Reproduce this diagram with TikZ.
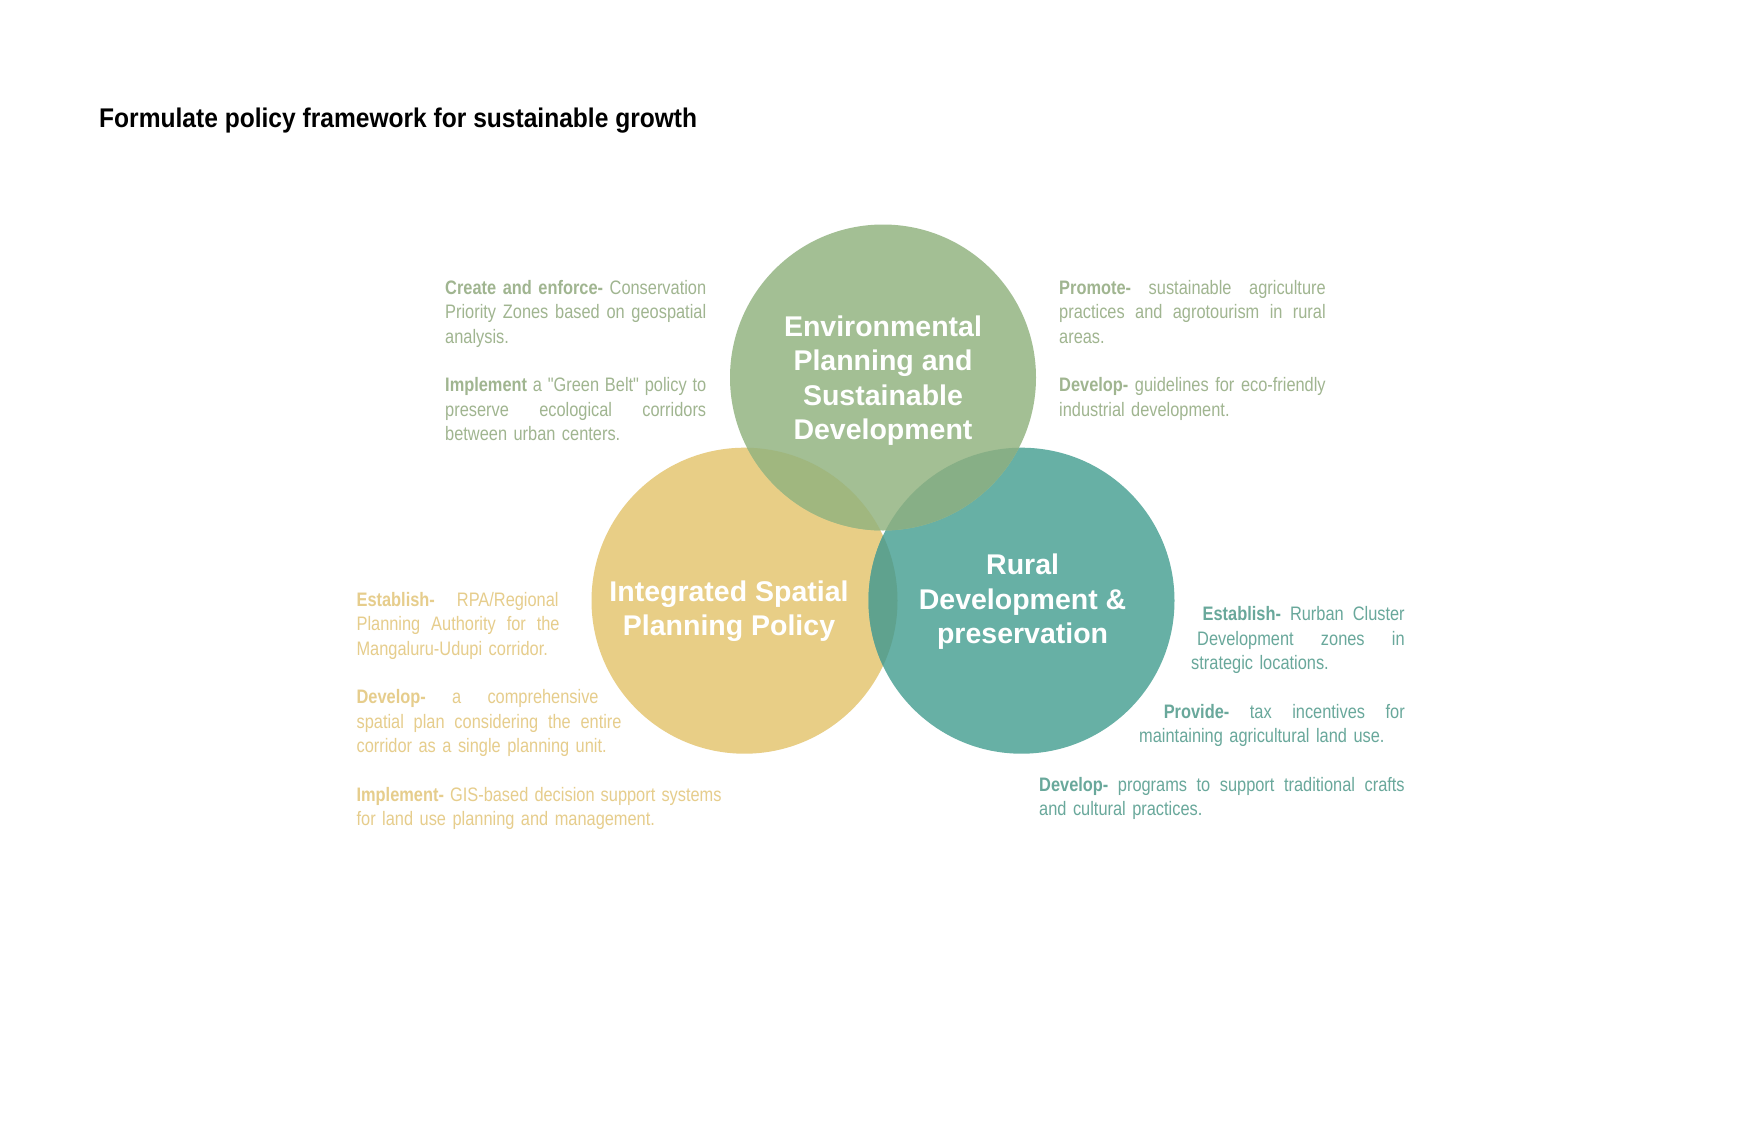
\documentclass[tikz,border=0pt]{standalone}
\usepackage{fontspec}
\setmainfont{Liberation Sans}
\newfontfamily\titlefont[FakeStretch=0.91]{Liberation Sans}
\newfontfamily\bodyfont[FakeStretch=0.84]{Liberation Sans}
\definecolor{cgreen}{HTML}{A3BF94}
\definecolor{cyel}{HTML}{E8CE86}
\definecolor{cteal}{HTML}{67B0A5}
\definecolor{cGY}{HTML}{A0B77F}
\definecolor{cGT}{HTML}{87AF86}
\definecolor{cYT}{HTML}{5FA28E}
\definecolor{tgreen}{HTML}{A0B590}
\definecolor{tyel}{HTML}{E6CD8C}
\definecolor{tteal}{HTML}{69A89B}
\newcommand{\J}[2]{\makebox[#1][s]{\spaceskip=\fontdimen2\font plus 1fil\relax #2}}
\begin{document}
\begin{tikzpicture}[x=1pt,y=-1pt,
  circlabel/.style={align=center,text=white,inner sep=0pt,
    font=\bfseries\fontsize{28.5}{34.5}\selectfont},
  bodytext/.style={anchor=base west,inner sep=0pt,
    font=\bodyfont\fontsize{19.5}{24.4}\selectfont}]
\useasboundingbox[fill=white] (0,0) rectangle (1741,1125);
\node[anchor=base west,inner sep=0pt,font=\titlefont\bfseries\fontsize{27}{32}\selectfont] (title) at (99,127) {Formulate policy framework for sustainable growth};
\coordinate (G) at (883,377.5);
\coordinate (Y) at (744.5,600.7);
\coordinate (T) at (1021.5,600.7);
\fill[cyel] (Y) circle[radius=153pt];
\fill[cteal] (T) circle[radius=153pt];
\fill[cgreen] (G) circle[radius=153pt];
\begin{scope}
  \clip (G) circle[radius=153pt];
  \fill[cGY] (Y) circle[radius=153pt];
  \fill[cGT] (T) circle[radius=153pt];
\end{scope}
\begin{scope}
  \clip (Y) circle[radius=153pt];
  \fill[cYT] (T) circle[radius=153pt];
\end{scope}
\node[circlabel] (lg) at (883,380.5) {Environmental\\Planning and\\Sustainable\\Development};
\node[circlabel] (ly) at (729,611) {Integrated Spatial\\Planning Policy};
\node[circlabel] (lt) at (1022.6,602) {Rural\\Development \&\\preservation};
\node[bodytext,text=tgreen,text width=262pt] (pa) at (445,294.3) {%
\J{261pt}{\textbf{Create and enforce-} Conservation}\\
\J{261pt}{Priority Zones based on geospatial}\\
analysis.\\[24.4pt]
\J{261pt}{\textbf{Implement} a "Green Belt" policy to}\\
\J{261pt}{preserve ecological corridors}\\
between urban centers.};
\node[bodytext,text=tgreen,text width=268pt] (pb) at (1059,294.3) {%
\J{266.5pt}{\textbf{Promote-} sustainable agriculture}\\
\J{266.5pt}{practices and agrotourism in rural}\\
areas.\\[24.4pt]
\J{266.5pt}{\textbf{Develop-} guidelines for eco-friendly}\\
industrial development.};
\node[bodytext,text=tyel,text width=367pt] (pc) at (356.4,606.3) {%
\J{202pt}{\textbf{Establish-} RPA/Regional}\\
\J{203pt}{Planning Authority for the}\\
Mangaluru-Udupi corridor.\\[24.4pt]
\J{242pt}{\textbf{Develop-} a comprehensive}\\
\J{265pt}{spatial plan considering the entire}\\
corridor as a single planning unit.\\[24.4pt]
\J{365pt}{\textbf{Implement-} GIS-based decision support systems}\\
for land use planning and management.};
\node[bodytext,text=tteal,text width=368pt] (pd) at (1039,620.7) {%
\hspace*{163.5pt}\J{202pt}{\textbf{Establish-} Rurban Cluster}\\
\hspace*{158pt}\J{207.5pt}{Development zones in}\\
\hspace*{152pt}strategic locations.\\[24.4pt]
\hspace*{124.6pt}\J{241pt}{\textbf{Provide-} tax incentives for}\\
\hspace*{100pt}maintaining agricultural land use.\\[24.4pt]
\J{365.5pt}{\textbf{Develop-} programs to support traditional crafts}\\
and cultural practices.};
\end{tikzpicture}
\end{document}
